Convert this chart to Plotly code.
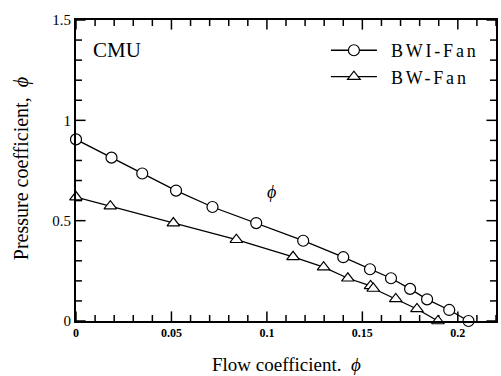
import plotly.graph_objects as go

bwi_x = [0.0, 0.0186, 0.0347, 0.0524, 0.0715, 0.0944, 0.119, 0.140, 0.154, 0.165, 0.175, 0.1839, 0.1955, 0.2056]
bwi_y = [0.905, 0.814, 0.735, 0.65, 0.568, 0.488, 0.40, 0.318, 0.258, 0.213, 0.16, 0.108, 0.055, 0.0]

bw_x = [0.0, 0.018, 0.051, 0.084, 0.1137, 0.1297, 0.1424, 0.1543, 0.1557, 0.1675, 0.1786, 0.1896]
bw_y = [0.6175, 0.572, 0.488, 0.405, 0.32, 0.268, 0.213, 0.175, 0.162, 0.11, 0.06, 0.0]

x_ticks = [0, 0.05, 0.1, 0.15, 0.2]
x_labels = ["0", "0.05", "0.1", "0.15", "0.2"]
y_ticks = [0, 0.5, 1, 1.5]
y_labels = ["0", "0.5", "1", "1.5"]
x_minor = [i / 100 for i in range(0, 23)]
y_minor = [i / 10 for i in range(0, 16)]

x_range = [0, 0.22]
y_range = [0, 1.5]
plot_w, plot_h = 501 - 76 - 3, 376 - 20 - 55

serif = "Liberation Serif"

fig = go.Figure()

# inside tick marks on all four sides, drawn as line markers (half-length offset keeps them inside)
def is_major(v, majors):
    return any(abs(v - t) < 1e-9 for t in majors)

px_y = (y_range[1] - y_range[0]) / plot_h
px_x = (x_range[1] - x_range[0]) / plot_w
for majors, minors, horiz in [(x_ticks, x_minor, True), (y_ticks, y_minor, False)]:
    for major in (True, False):
        vals = [v for v in minors if is_major(v, majors) == major]
        ln = 8 if major else 5
        if horiz:
            for edge, sgn in [(y_range[0], 1), (y_range[1], -1)]:
                fig.add_trace(go.Scatter(
                    x=vals, y=[edge + sgn * ln / 2 * px_y] * len(vals), mode="markers",
                    marker=dict(symbol="line-ns", size=ln, line=dict(color="black", width=1.5)),
                    showlegend=False, hoverinfo="skip", cliponaxis=False))
        else:
            for edge, sgn in [(x_range[0], 1), (x_range[1], -1)]:
                fig.add_trace(go.Scatter(
                    y=vals, x=[edge + sgn * ln / 2 * px_x] * len(vals), mode="markers",
                    marker=dict(symbol="line-ew", size=ln, line=dict(color="black", width=1.5)),
                    showlegend=False, hoverinfo="skip", cliponaxis=False))

fig.add_trace(go.Scatter(
    x=bwi_x, y=bwi_y, mode="lines+markers",
    name='\u00a0\u00a0<span style="letter-spacing:2.8px">BWI-Fan</span>',
    line=dict(color="black", width=1.3),
    marker=dict(symbol="circle", size=11, color="white", line=dict(color="black", width=1.2)),
    cliponaxis=False))
fig.add_trace(go.Scatter(
    x=bw_x, y=bw_y, mode="lines+markers",
    name='\u00a0\u00a0<span style="letter-spacing:2.8px">BW-Fan</span>',
    line=dict(color="black", width=1.3),
    marker=dict(symbol="triangle-up", size=11, color="white", line=dict(color="black", width=1.2)),
    cliponaxis=False))

fig.update_xaxes(range=x_range, tickmode="array", tickvals=x_ticks, ticktext=x_labels,
                 ticks="", showline=True, linecolor="black", linewidth=2, mirror=True,
                 showgrid=False, zeroline=False,
                 tickfont=dict(family=serif, size=12, color="black", weight="bold"))
fig.update_yaxes(range=y_range, tickmode="array", tickvals=y_ticks, ticktext=y_labels,
                 ticks="", showline=True, linecolor="black", linewidth=2, mirror=True,
                 showgrid=False, zeroline=False,
                 tickfont=dict(family=serif, size=15, color="black"))

fig.add_annotation(text="Flow coefficient.  <i>ϕ</i>", xref="paper", yref="paper",
                   x=0.5, y=-0.145, xanchor="center", yanchor="middle", showarrow=False,
                   font=dict(family=serif, size=19, color="black"))
fig.add_annotation(text="Pressure coefficient,  <i>ϕ</i>", xref="paper", yref="paper",
                   x=-0.128, y=0.505, xanchor="center", yanchor="middle", textangle=-90, showarrow=False,
                   font=dict(family=serif, size=20, color="black"))
fig.add_annotation(text="CMU", xref="paper", yref="paper", x=0.036, y=0.90,
                   xanchor="left", yanchor="middle", showarrow=False,
                   font=dict(family=serif, size=21, color="black"))
fig.add_annotation(text="<i>ϕ</i>", xref="x", yref="y", x=0.1026, y=0.645,
                   showarrow=False, font=dict(family=serif, size=18, color="black"))

fig.update_layout(
    width=501, height=376, margin=dict(l=76, r=3, t=20, b=55),
    paper_bgcolor="white", plot_bgcolor="white",
    legend=dict(x=0.595, y=0.96, xanchor="left", yanchor="top", bgcolor="rgba(0,0,0,0)",
                font=dict(family=serif, size=18, color="black"), tracegroupgap=0,
                itemwidth=46),
)

fig.write_html("out.html")
